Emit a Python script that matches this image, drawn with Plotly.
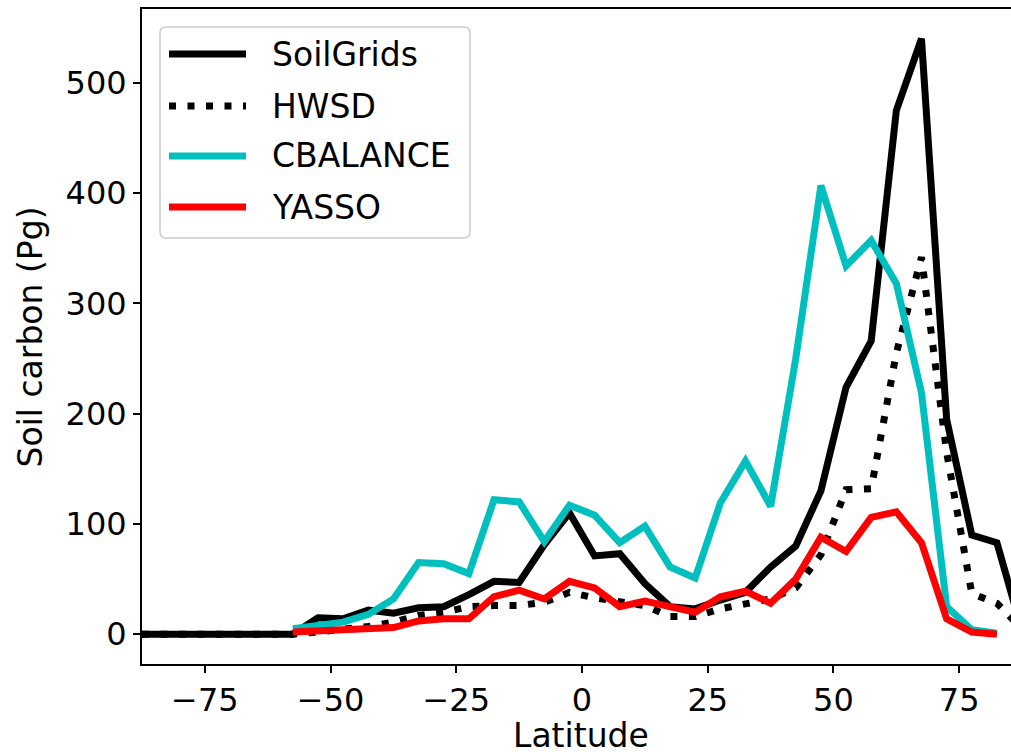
import plotly.graph_objects as go

# Latitude bin centres (degrees)
lat = [-87.5, -82.5, -77.5, -72.5, -67.5, -62.5, -57.5, -52.5, -47.5, -42.5,
       -37.5, -32.5, -27.5, -22.5, -17.5, -12.5, -7.5, -2.5, 2.5, 7.5,
       12.5, 17.5, 22.5, 27.5, 32.5, 37.5, 42.5, 47.5, 52.5, 57.5,
       62.5, 67.5, 72.5, 77.5, 82.5, 87.5]

# Soil carbon per latitude band (Pg)
soilgrids = [0, 0, 0, 0, 0, 0, 0, 15, 14, 22,
             19, 24, 25, 36, 48, 47, 81, 110, 71, 73,
             46, 25, 23, 31, 38, 61, 80, 130, 224, 266,
             475, 540, 195, 90, 83, 3]
hwsd = [0, 0, 0, 0, 0, 0, 0, 2, 4, 7,
        11, 17, 20, 25, 26, 26, 29, 38, 33, 30,
        26, 16, 16, 23, 27, 32, 42, 72, 131, 132,
        255, 342, 165, 37, 28, 5]
cbalance = [None, None, None, None, None, None, 5, 8, 11, 18,
            32, 65, 64, 55, 122, 120, 84, 117, 108, 83,
            98, 61, 51, 119, 157, 116, 250, 407, 334, 357,
            318, 219, 25, 4, 1, None]
yasso = [None, None, None, None, None, None, 2, 3, 4, 6,
         6, 12, 14, 14, 34, 40, 32, 48, 42, 25,
         30, 25, 20, 34, 39, 28, 50, 88, 75, 106,
         111, 83, 14, 2, 0, None]

series_names = ["SoilGrids", "HWSD", "CBALANCE", "YASSO"]
series_values = [soilgrids, hwsd, cbalance, yasso]
series_colors = ["#000000", "#000000", "#00bfbf", "#ff0000"]
series_dash = ["solid", "7px,11.5px", "solid", "solid"]

xticks = [-75, -50, -25, 0, 25, 50, 75]
yticks = [0, 100, 200, 300, 400, 500]

W, H = 1011, 756
L, T, B = 142, 9, 664           # plot area edges in pixels
PW, PH = W - L, B - T
FONT = "DejaVu Sans"
TICK_FS = 32
TEXT_FS = 33
LW = 7


def fx(px):
    return (px - L) / PW


def fy(py):
    return (B - py) / PH


fig = go.Figure()
for name, vals, col, dash in zip(series_names, series_values, series_colors, series_dash):
    fig.add_trace(go.Scatter(
        x=lat, y=vals, mode="lines", name=name, showlegend=False,
        line=dict(color=col, width=LW, dash=dash),
        connectgaps=False,
    ))

# Legend drawn as shapes + text
shapes = []
x0, x1, y0, y1, r = 160, 470, 27, 238, 6
path = (f"M {fx(x0 + r)},{fy(y0)} L {fx(x1 - r)},{fy(y0)} Q {fx(x1)},{fy(y0)} {fx(x1)},{fy(y0 + r)} "
        f"L {fx(x1)},{fy(y1 - r)} Q {fx(x1)},{fy(y1)} {fx(x1 - r)},{fy(y1)} "
        f"L {fx(x0 + r)},{fy(y1)} Q {fx(x0)},{fy(y1)} {fx(x0)},{fy(y1 - r)} "
        f"L {fx(x0)},{fy(y0 + r)} Q {fx(x0)},{fy(y0)} {fx(x0 + r)},{fy(y0)} Z")
shapes.append(dict(type="path", xref="paper", yref="paper", path=path,
                   fillcolor="rgba(255,255,255,0.8)", line=dict(color="#cccccc", width=1.5),
                   layer="above"))
annotations = []
row_y = [54, 106, 156, 207]
for name, col, dash, ry in zip(series_names, series_colors, series_dash, row_y):
    shapes.append(dict(type="line", xref="paper", yref="paper",
                       x0=fx(169), x1=fx(246), y0=fy(ry), y1=fy(ry),
                       line=dict(color=col, width=LW, dash=dash), layer="above"))
    annotations.append(dict(xref="paper", yref="paper", x=fx(270), y=fy(ry),
                            text=name, showarrow=False, xanchor="left", yanchor="middle",
                            font=dict(family=FONT, size=TEXT_FS, color="black")))

# Axis titles
annotations.append(dict(xref="paper", yref="paper", x=fx(581), y=fy(735),
                        text="Latitude", showarrow=False, xanchor="center", yanchor="middle",
                        font=dict(family=FONT, size=TEXT_FS, color="black")))
annotations.append(dict(xref="paper", yref="paper", x=fx(30), y=0.5,
                        text="Soil carbon (Pg)", showarrow=False, textangle=-90,
                        xanchor="center", yanchor="middle",
                        font=dict(family=FONT, size=TEXT_FS, color="black")))

axis_common = dict(showgrid=False, zeroline=False, showline=True, linecolor="black",
                   linewidth=2, ticks="outside", ticklen=7, tickwidth=2, tickcolor="black",
                   tickfont=dict(family=FONT, size=TICK_FS, color="black"))

fig.update_layout(
    width=W, height=H,
    margin=dict(l=L, r=0, t=T, b=H - B, pad=0),
    paper_bgcolor="white", plot_bgcolor="white",
    xaxis=dict(range=[-87.5, 85.3], tickvals=xticks, mirror=True, **axis_common),
    yaxis=dict(range=[-27, 567], tickvals=yticks, **axis_common),
    shapes=shapes, annotations=annotations,
    showlegend=False,
)

fig.write_html("out.html")
